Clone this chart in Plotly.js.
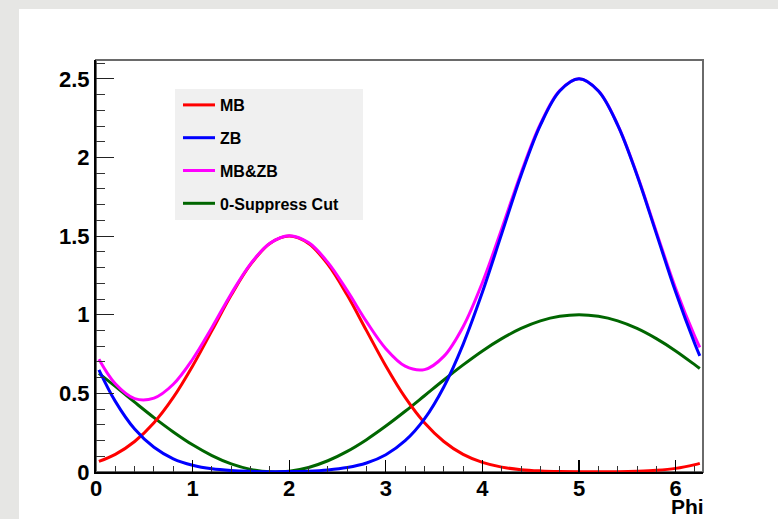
<!DOCTYPE html>
<html>
<head>
<meta charset="utf-8">
<script src="https://cdn.plot.ly/plotly-3.0.1.min.js"></script>
<style>html,body{margin:0;padding:0;background:#e6e6e4;}#chart{width:778px;height:519px;}</style>
</head>
<body>
<div id="chart"></div>
<script>
const phi = [0.03, 0.2, 0.4, 0.6, 0.8, 1.0, 1.2, 1.4, 1.6, 1.8, 2.0, 2.2, 2.4, 2.6, 2.8, 3.0, 3.2, 3.4, 3.6, 3.8, 4.0, 4.2, 4.4, 4.6, 4.8, 5.0, 5.2, 5.4, 5.6, 5.8, 6.0, 6.2, 6.25];
const mb = [0.067, 0.112, 0.194, 0.313, 0.474, 0.674, 0.899, 1.125, 1.320, 1.453, 1.500, 1.453, 1.320, 1.125, 0.899, 0.674, 0.474, 0.313, 0.194, 0.112, 0.061, 0.031, 0.015, 0.007, 0.003, 0.001, 0.001, 0.002, 0.005, 0.011, 0.023, 0.047, 0.055];
const zb = [0.650, 0.449, 0.273, 0.157, 0.084, 0.043, 0.020, 0.009, 0.004, 0.002, 0.003, 0.0055, 0.013, 0.028, 0.057, 0.110, 0.199, 0.338, 0.541, 0.812, 1.144, 1.516, 1.887, 2.206, 2.423, 2.500, 2.423, 2.206, 1.887, 1.516, 1.144, 0.812, 0.738];
const mbzb = [0.717, 0.561, 0.467, 0.470, 0.558, 0.717, 0.919, 1.134, 1.324, 1.455, 1.503, 1.459, 1.333, 1.153, 0.956, 0.784, 0.673, 0.651, 0.735, 0.924, 1.205, 1.547, 1.902, 2.213, 2.426, 2.501, 2.424, 2.208, 1.892, 1.527, 1.167, 0.859, 0.793];
const suppress = [0.627, 0.544, 0.444, 0.346, 0.255, 0.173, 0.1045, 0.0516, 0.0166, 0.0009, 0.005, 0.0289, 0.0716, 0.1313, 0.2058, 0.292, 0.386, 0.485, 0.585, 0.681, 0.770, 0.848, 0.913, 0.961, 0.990, 1.000, 0.990, 0.961, 0.913, 0.848, 0.770, 0.681, 0.658];
const seriesNames = ["MB", "ZB", "MB&ZB", "0-Suppress Cut"];
const seriesColors = ["#ff0000", "#0000ff", "#ff00ff", "#006600"];
const xTitle = "Phi";

const seriesY = [mb, zb, mbzb, suppress];
const drawOrder = [3, 0, 2, 1];
const traces = drawOrder.map(i => ({
  x: phi, y: seriesY[i], type: "scatter", mode: "lines",
  name: seriesNames[i], legendgroup: "g" + i, legendrank: i + 1,
  line: {color: seriesColors[i], width: 3, shape: "spline", smoothing: 1},
  hoverinfo: "x+y+name"
}));

const L = 96, R = 75, T = 60, B = 47, W = 778, H = 519;
const pw = W - L - R, ph = H - T - B;
const px = v => (v - L) / pw;
const py = v => (H - B - v) / ph;
const bold = {family: "Liberation Sans, Arial, sans-serif", size: 22, color: "#000", weight: "bold"};

const layout = {
  width: W, height: H,
  margin: {l: L, r: R, t: T, b: B, pad: 0},
  paper_bgcolor: "#e6e6e4",
  plot_bgcolor: "rgba(0,0,0,0)",
  showlegend: true,
  legend: {
    x: px(178), y: py(88), xanchor: "left", yanchor: "top",
    bgcolor: "rgba(0,0,0,0)", borderwidth: 0,
    traceorder: "grouped", tracegroupgap: 9,
    font: {family: "Liberation Sans, Arial, sans-serif", size: 16, color: "#000", weight: "bold"},
    itemwidth: 32
  },
  xaxis: {
    range: [0, 6.283], showgrid: false, zeroline: false,
    showline: true, linecolor: "#000", linewidth: 2,
    ticks: "inside", ticklen: 12, tickwidth: 1.2, tickcolor: "#000",
    dtick: 1, tick0: 0, tickfont: bold, ticklabelstandoff: -4,
    minor: {dtick: 0.2, ticks: "inside", ticklen: 6, tickwidth: 1, tickcolor: "#333", showgrid: false}
  },
  yaxis: {
    range: [0, 2.62], showgrid: false, zeroline: false,
    showline: true, linecolor: "#000", linewidth: 2,
    ticks: "inside", ticklen: 18, tickwidth: 1.2, tickcolor: "#222",
    dtick: 0.5, tick0: 0, tickfont: bold,
    minor: {dtick: 0.1, ticks: "inside", ticklen: 9, tickwidth: 1, tickcolor: "#333", showgrid: false}
  },
  shapes: [
    {type: "rect", xref: "paper", yref: "paper", x0: px(19), x1: px(778), y0: py(519), y1: py(9),
     fillcolor: "#ffffff", line: {width: 0}, layer: "below"},
    {type: "rect", xref: "paper", yref: "paper", x0: px(175), x1: px(363), y0: py(220), y1: py(89),
     fillcolor: "#f0f0f0", line: {width: 0}, layer: "below"},
    {type: "rect", xref: "paper", yref: "paper", x0: 0, x1: 1, y0: 0, y1: 1,
     fillcolor: "rgba(0,0,0,0)", line: {color: "#6a6a6a", width: 2}, layer: "below"}
  ],
  annotations: [
    {text: xTitle, xref: "paper", yref: "paper", x: px(705), y: py(519), xanchor: "right", yanchor: "bottom",
     borderpad: 0, showarrow: false,
     font: {family: "Liberation Sans, Arial, sans-serif", size: 21, color: "#000", weight: "bold"}}
  ]
};

Plotly.newPlot("chart", traces, layout, {displayModeBar: false, staticPlot: true});
</script>
</body>
</html>
